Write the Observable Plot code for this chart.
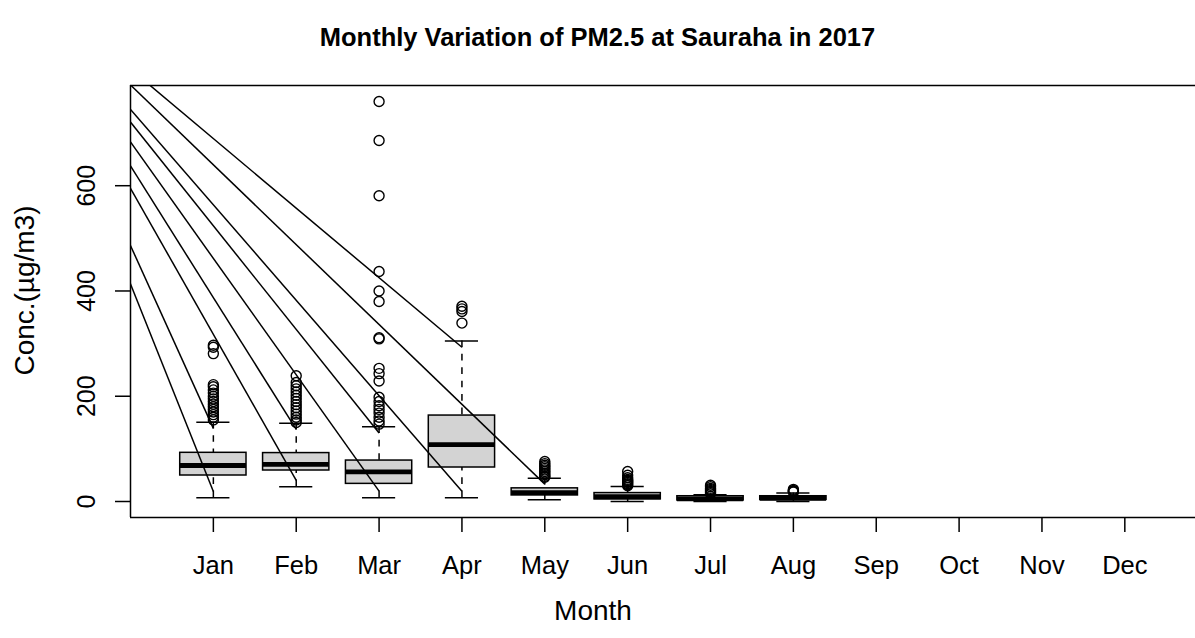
<!DOCTYPE html>
<html>
<head>
<meta charset="utf-8">
<script src="https://cdn.jsdelivr.net/npm/d3@7"></script>
<script src="https://cdn.jsdelivr.net/npm/@observablehq/plot@0.6"></script>
<style>
html, body { margin: 0; padding: 0; background: #fff; overflow: hidden; }
#wrap { width: 1195px; height: 638px; position: relative; font-family: "Liberation Sans", Arial, Helvetica, sans-serif; }
#title { margin: 0; height: 75px; line-height: 75px; text-align: center; font-weight: bold; font-size: 25.5px; color: #000; }
</style>
</head>
<body>
<div id="wrap">
  <h1 id="title">Monthly Variation of PM2.5 at Sauraha in 2017</h1>
  <div id="chart"></div>
</div>
<script>
// ---- data ----
const months = ["Jan", "Feb", "Mar", "Apr", "May", "Jun", "Jul", "Aug", "Sep", "Oct", "Nov", "Dec"];
const monthIndex = [1, 2, 3, 4, 5, 6, 7, 8, 9, 10, 11, 12];
const yTicks = [0, 200, 400, 600];

// box statistics (Jan–Aug; Sep–Dec have no data)
const whiskerLow  = [7.0, 27.9, 7.0, 7.0, 3.2, 0, 0, 0];
const q1          = [49.4, 58.9, 33.5, 64.6, 11.5, 4, 2, 3];
const median      = [68.4, 70.6, 56.3, 108.2, 17, 9, 5, 6];
const q3          = [92.5, 92.0, 77.8, 163.3, 25, 16, 10, 10];
const whiskerHigh = [150.6, 148.7, 141.8, 305, 44.3, 28.5, 13, 16];

// outliers per month
const outJan = [297, 293, 281, 222, 218, 212, 206, 200, 195, 190, 185, 180, 175, 170, 165, 160, 155];
const outFeb = [239, 226, 220, 214, 208, 202, 196, 190, 184, 178, 172, 166, 160, 155, 150];
const outMar = [760, 686, 581, 437, 400, 380, 311, 309, 253, 243, 229, 198, 190, 182, 175, 168, 160, 153, 147];
const outApr = [371, 366, 361, 339];
const outMay = [76, 72, 69, 66, 63, 60, 57, 54, 51, 48, 46];
const outJun = [57, 50, 45, 42, 40, 38, 36, 34, 32, 30];
const outJul = [31, 28, 25, 23, 21, 19, 17, 15];
const outAug = [23, 21, 20, 19, 18];

// stray reference lines: all run from one point (off the plot) to points near whisker ends
const lineOriginMonth = -1.56;
const lineOriginValue = 1028;
const lineMonth = [1, 1, 2, 2, 3, 3, 4, 4, 5];
const lineValue = [19, 139, 40, 137, 19.6, 130, 19.6, 293, 33];

// axis extents (R style 4% padding)
const xDomain = [0, 12.853];
const yDomain = [-30.4, 790.4];

// ---- tables for the library ----
const boxes = whiskerLow.map((lo, i) => ({
  m: monthIndex[i], lo, q1: q1[i], med: median[i], q3: q3[i], hi: whiskerHigh[i]
}));
const outliers = [outJan, outFeb, outMar, outApr, outMay, outJun, outJul, outAug]
  .flatMap((arr, i) => arr.map(v => ({m: monthIndex[i], v})));
const strayLines = lineMonth.map((m, i) => ({m, v: lineValue[i]}));

const halfBox = 0.4, halfStaple = 0.2;
const lw = 1.5;

const chart = Plot.plot({
  width: 1195,
  height: 563,
  marginLeft: 130,
  marginRight: 0,
  marginTop: 10,
  marginBottom: 121,
  style: {fontFamily: "'Liberation Sans', Arial, Helvetica, sans-serif", color: "black", background: "white", overflow: "visible"},
  x: {type: "linear", domain: xDomain, axis: null},
  y: {type: "linear", domain: yDomain, axis: null},
  marks: [
    // boxes
    Plot.rect(boxes, {x1: d => d.m - halfBox, x2: d => d.m + halfBox, y1: "q1", y2: "q3",
      fill: "#d3d3d3", stroke: "black", strokeWidth: lw}),
    // medians
    Plot.ruleY(boxes, {y: "med", x1: d => d.m - halfBox, x2: d => d.m + halfBox,
      stroke: "black", strokeWidth: 4.8, strokeLinecap: "butt"}),
    // whiskers (dashed)
    Plot.ruleX(boxes, {x: "m", y1: "hi", y2: "q3", stroke: "black", strokeWidth: lw, strokeDasharray: "6.7,6.7"}),
    Plot.ruleX(boxes, {x: "m", y1: "lo", y2: "q1", stroke: "black", strokeWidth: lw, strokeDasharray: "6.7,6.7"}),
    // staples
    Plot.ruleY(boxes, {y: "hi", x1: d => d.m - halfStaple, x2: d => d.m + halfStaple, stroke: "black", strokeWidth: lw}),
    Plot.ruleY(boxes, {y: "lo", x1: d => d.m - halfStaple, x2: d => d.m + halfStaple, stroke: "black", strokeWidth: lw}),
    // outliers
    Plot.dot(outliers, {x: "m", y: "v", r: 5, stroke: "black", strokeWidth: 1.4, fill: "none"}),
    // plot frame (top, bottom, left)
    Plot.ruleY(yDomain, {stroke: "black", strokeWidth: lw}),
    Plot.ruleX([xDomain[0]], {stroke: "black", strokeWidth: lw}),
    // axes
    Plot.axisX({ticks: monthIndex, tickSize: 15, tickPadding: 23, tickFormat: i => months[i - 1],
      fontSize: 25.5, label: null, anchor: "bottom", strokeWidth: lw}),
    Plot.axisY({ticks: yTicks, tickSize: 15, tickPadding: 21, tickRotate: -90, tickFormat: d => String(d),
      fontSize: 25, label: null, anchor: "left", strokeWidth: lw}),
    // stray lines
    Plot.link(strayLines, {x1: () => lineOriginMonth, y1: () => lineOriginValue, x2: "m", y2: "v",
      stroke: "black", strokeWidth: lw, clip: true}),
    // axis titles
    Plot.text(["Month"], {frameAnchor: "bottom", dx: -70, dy: 102, lineAnchor: "bottom", fontSize: 28, text: d => d}),
    Plot.text(["Conc.(µg/m3)"], {frameAnchor: "left", dx: -97, dy: -11, rotate: -90, lineAnchor: "bottom",
      textAnchor: "middle", fontSize: 28, text: d => d})
  ]
});
document.getElementById("chart").appendChild(chart);
</script>
</body>
</html>
